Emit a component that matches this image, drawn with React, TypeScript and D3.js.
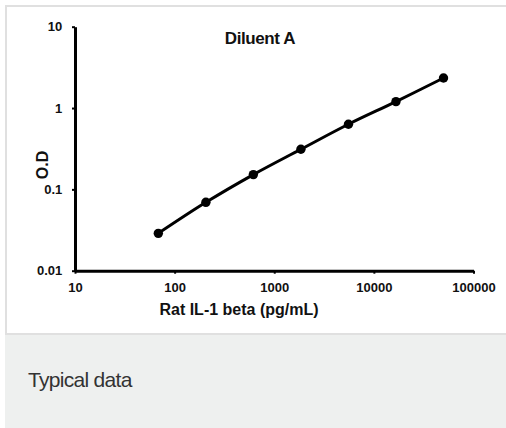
import React, { useEffect, useRef } from 'react';
import * as d3 from 'd3';

const concentrations = [68.6, 206, 617, 1852, 5556, 16667, 50000];
const odValues = [0.0288, 0.0693, 0.152, 0.311, 0.632, 1.2, 2.34];
const xTicks = [10, 100, 1000, 10000, 100000];
const yTicks = [0.01, 0.1, 1, 10];
const yTickLabels = ['0.01', '0.1', '1', '10'];
// ————————————————————————————

const App = () => {
  const svgRef = useRef<SVGSVGElement>(null);

  useEffect(() => {
    const fullW = 506;
    const fullH = 428;
    const font = "'Liberation Sans', Arial, sans-serif";

    const svg = d3.select(svgRef.current);
    svg.selectAll('*').remove();
    svg.attr('width', fullW).attr('height', fullH).attr('viewBox', `0 0 ${fullW} ${fullH}`);

    // panel frame + caption band
    svg.append('rect')
      .attr('x', 6).attr('y', 6)
      .attr('width', 540).attr('height', 328)
      .attr('fill', '#fff')
      .attr('stroke', '#e0e0e0')
      .attr('stroke-width', 2);
    svg.append('rect')
      .attr('x', 5).attr('y', 335)
      .attr('width', fullW).attr('height', fullH - 335)
      .attr('fill', '#eef0ef');
    svg.append('text')
      .attr('x', 28).attr('y', 386.5)
      .attr('font-family', font)
      .attr('font-size', '21px')
      .attr('letter-spacing', '-0.7px')
      .attr('fill', '#333')
      .text('Typical data');

    const x = d3.scaleLog().domain([10, 100000]).range([75, 473.5]);
    const y = d3.scaleLog().domain([0.01, 10]).range([270.7, 26.7]);

    const xAxis = svg.append('g')
      .attr('transform', `translate(0,${y(0.01)})`)
      .call(d3.axisBottom(x)
        .tickValues(xTicks)
        .tickFormat(d3.format('d') as any)
        .tickSize(3)
        .tickSizeOuter(0)
        .tickPadding(9.5));
    const yAxis = svg.append('g')
      .attr('transform', `translate(${x(10)},0)`)
      .call(d3.axisLeft(y)
        .tickValues(yTicks)
        .tickFormat((_, i) => yTickLabels[i])
        .tickSize(3)
        .tickSizeOuter(0)
        .tickPadding(9.7));

    [xAxis, yAxis].forEach(ax => {
      ax.select('.domain').attr('stroke', '#000').attr('stroke-width', 3);
      ax.selectAll('.tick line').attr('stroke', '#000').attr('stroke-width', 2);
      ax.selectAll('.tick text')
        .attr('fill', '#111')
        .attr('font-family', font)
        .attr('font-weight', 'bold')
        .attr('font-size', '13px');
    });

    const pts = concentrations.map((c, i) => ({ c, od: odValues[i] }));

    const line = d3.line<{ c: number; od: number }>()
      .x(d => x(d.c))
      .y(d => y(d.od))
      .curve(d3.curveCatmullRom);

    svg.append('path')
      .datum(pts)
      .attr('fill', 'none')
      .attr('stroke', '#000')
      .attr('stroke-width', 3)
      .attr('d', line);

    svg.selectAll('circle.pt')
      .data(pts)
      .join('circle')
      .attr('class', 'pt')
      .attr('cx', d => x(d.c))
      .attr('cy', d => y(d.od))
      .attr('r', 4.7)
      .attr('fill', '#000');

    // Title
    svg.append('text')
      .attr('x', 260).attr('y', 43.5)
      .attr('text-anchor', 'middle')
      .attr('font-family', font)
      .attr('font-weight', 'bold')
      .attr('font-size', '17px')
      .attr('letter-spacing', '-0.4px')
      .attr('fill', '#111')
      .text('Diluent A');

    // Axis labels
    svg.append('text')
      .attr('x', 239).attr('y', 315)
      .attr('text-anchor', 'middle')
      .attr('font-family', font)
      .attr('font-weight', 'bold')
      .attr('font-size', '16px')
      .attr('fill', '#111')
      .text('Rat IL-1 beta (pg/mL)');
    svg.append('text')
      .attr('transform', 'translate(47.5,165) rotate(-90)')
      .attr('text-anchor', 'middle')
      .attr('font-family', font)
      .attr('font-weight', 'bold')
      .attr('font-size', '16px')
      .attr('fill', '#111')
      .text('O.D');
  }, []);

  return (
    <div style={{ position: 'fixed', left: 0, top: 0, background: '#fff' }}>
      <svg ref={svgRef} style={{ display: 'block' }} />
    </div>
  );
};

export default App;
